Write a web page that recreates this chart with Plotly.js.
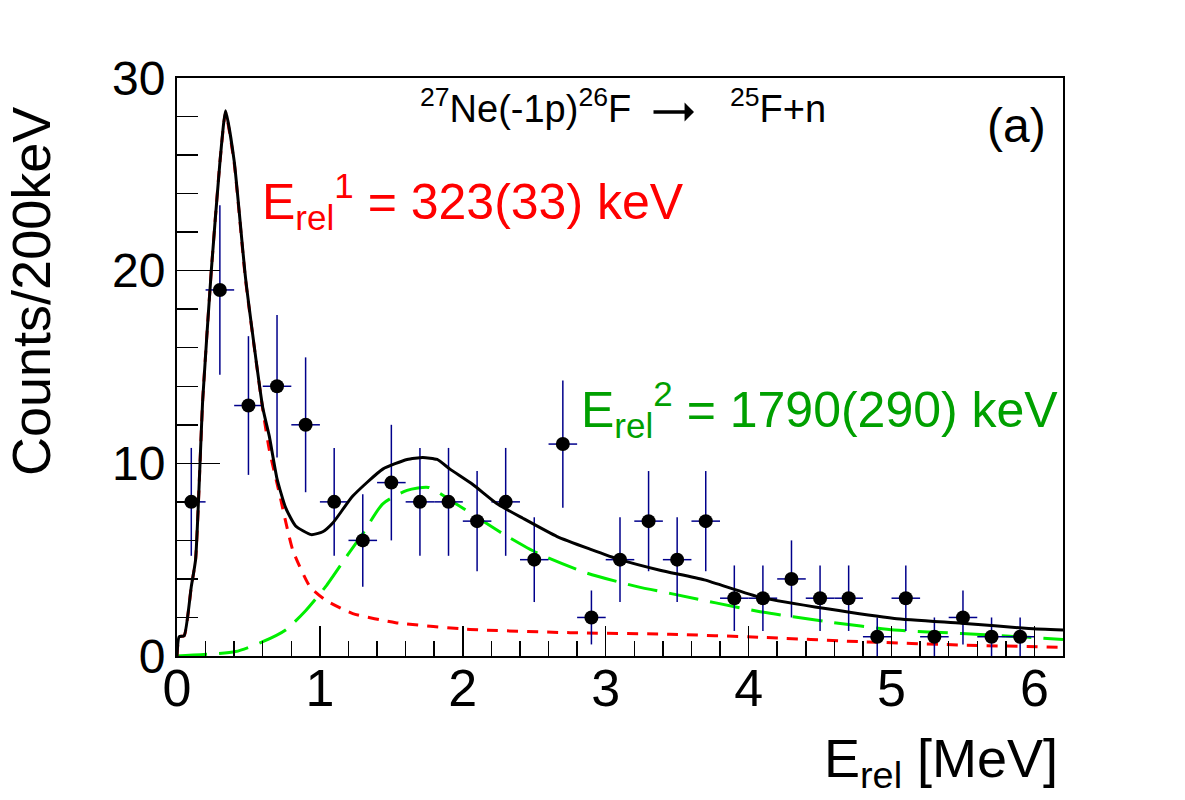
<!DOCTYPE html>
<html>
<head>
<meta charset="utf-8">
<script src="https://cdn.plot.ly/plotly-3.0.1.min.js"></script>
<style>
  body { margin: 0; background: #fff; }
  #plot { width: 1185px; height: 800px; }
</style>
</head>
<body>
<div id="plot"></div>
<script>
// === Data === //
var binCenters = [0.1, 0.3, 0.5, 0.7, 0.9, 1.1, 1.3, 1.5, 1.7, 1.9,
                  2.1, 2.3, 2.5, 2.7, 2.9, 3.1, 3.3, 3.5, 3.7, 3.9,
                  4.1, 4.3, 4.5, 4.7, 4.9, 5.1, 5.3, 5.5, 5.7, 5.9];
var counts = [8, 19, 13, 14, 12, 8, 6, 9, 8, 8,
              7, 8, 5, 11, 2, 5, 7, 5, 7, 3,
              3, 4, 3, 3, 1, 3, 1, 2, 1, 1];
var countErr = [2.8, 4.4, 3.6, 3.7, 3.5, 2.8, 2.4, 3.0, 2.8, 2.8,
                2.6, 2.8, 2.2, 3.3, 1.4, 2.2, 2.6, 2.2, 2.6, 1.7,
                1.7, 2.0, 1.7, 1.7, 1.0, 1.7, 1.0, 1.4, 1.0, 1.0];
var binHalfWidth = [0.1, 0.1, 0.1, 0.1, 0.1, 0.1, 0.1, 0.1, 0.1, 0.1,
                    0.1, 0.1, 0.1, 0.1, 0.1, 0.1, 0.1, 0.1, 0.1, 0.1,
                    0.1, 0.1, 0.1, 0.1, 0.1, 0.1, 0.1, 0.1, 0.1, 0.1];

// total fit (black)
var totalX = [0, 0.015, 0.05, 0.1, 0.13, 0.18, 0.24, 0.3, 0.34, 0.4, 0.48, 0.6, 0.646,
              0.7, 0.76, 0.83, 0.94, 1.02, 1.09, 1.23, 1.44, 1.61, 1.72, 1.82, 1.91, 2.07,
              2.24, 2.42, 2.66, 2.89, 3.1, 3.38, 3.69, 4.08, 4.55, 5.02, 5.49, 5.96, 6.2];
var totalY = [0, 1.0, 1.05, 3.6, 5.0, 13.3, 20.0, 25.6, 28.3, 25.7, 19.6, 12.9, 11.4,
              9.2, 7.7, 6.75, 6.3, 6.45, 6.9, 8.3, 9.7, 10.2, 10.3, 10.2, 9.7, 8.9,
              7.9, 7.15, 6.2, 5.55, 5.0, 4.45, 3.95, 3.05, 2.45, 1.95, 1.7, 1.43, 1.35];

// first resonance (red)
var res1X = [0, 0.015, 0.05, 0.1, 0.13, 0.18, 0.24, 0.3, 0.34, 0.4, 0.48, 0.6, 0.646,
             0.716, 0.81, 0.93, 1.04, 1.23, 1.53, 2.05, 2.75, 3.45, 4.08, 4.79, 5.49, 6.2];
var res1Y = [0, 1.0, 1.05, 3.6, 5.0, 13.3, 20.0, 25.6, 28.2, 25.6, 19.5, 12.8, 10.7,
             8.45, 5.5, 3.6, 2.9, 2.2, 1.73, 1.38, 1.21, 1.13, 0.97, 0.74, 0.57, 0.45];

// second resonance (green)
var res2X = [0, 0.41, 0.6, 0.76, 0.9, 1.04, 1.185, 1.3, 1.44, 1.61, 1.76, 1.91, 2.1,
             2.28, 2.52, 2.87, 3.22, 3.45, 4.08, 4.55, 5.02, 5.49, 5.96, 6.2];
var res2Y = [0, 0.23, 0.74, 1.35, 2.35, 3.6, 5.15, 6.35, 7.9, 8.6, 8.75, 8.1, 7.2,
             6.35, 5.35, 4.3, 3.6, 3.25, 2.3, 1.78, 1.35, 1.17, 0.97, 0.86];

var xTicks = [0, 1, 2, 3, 4, 5, 6];
var yTicks = [0, 10, 20, 30];

// === Traces === //
var traces = [
    {
        x: res2X, y: res2Y, mode: 'lines', type: 'scatter',
        line: {color: '#00ee00', width: 3, dash: '30px,12px', shape: 'spline', smoothing: 0.6},
        hoverinfo: 'skip'
    },
    {
        x: res1X, y: res1Y, mode: 'lines', type: 'scatter',
        line: {color: '#ff0000', width: 3, dash: '11px,9px', shape: 'spline', smoothing: 0.5},
        hoverinfo: 'skip'
    },
    {
        x: binCenters, y: counts, mode: 'markers', type: 'scatter',
        marker: {color: '#000000', size: 14, symbol: 'circle'},
        error_y: {type: 'data', array: countErr, visible: true, color: '#00008b', thickness: 1.5, width: 0},
        error_x: {type: 'data', array: binHalfWidth, visible: true, color: '#00008b', thickness: 1.5, width: 0}
    },
    {
        x: totalX, y: totalY, mode: 'lines', type: 'scatter',
        line: {color: '#000000', width: 3, shape: 'spline', smoothing: 0.5},
        hoverinfo: 'skip'
    }
];

var fontName = '"Liberation Sans", Arial, Helvetica, sans-serif';

// px -> paper helpers for text placement
function px(xp) { return (xp - 177) / 886; }
function py(yp) { return (656 - yp) / 578; }

var layout = {
    width: 1185,
    height: 800,
    showlegend: false,
    paper_bgcolor: '#ffffff',
    plot_bgcolor: '#ffffff',
    margin: {l: 177, r: 122, t: 78, b: 144},
    font: {family: fontName, color: '#000000'},
    xaxis: {
        range: [0, 6.2],
        tickvals: xTicks,
        ticktext: xTicks.map(String),
        ticks: 'inside', ticklen: 30, tickwidth: 1.5, tickcolor: '#000',
        minor: {dtick: 0.2, ticks: 'inside', ticklen: 15, tickwidth: 1.5, tickcolor: '#000', showgrid: false},
        tickfont: {size: 52, family: fontName},
        ticklabelstandoff: -14,
        showgrid: false, zeroline: false,
        showline: true, linecolor: '#000', linewidth: 2, mirror: true
    },
    yaxis: {
        range: [0, 30],
        tickvals: yTicks,
        ticktext: yTicks.map(String),
        ticks: 'inside', ticklen: 43, tickwidth: 1.5, tickcolor: '#000',
        minor: {dtick: 2, ticks: 'inside', ticklen: 21, tickwidth: 1.5, tickcolor: '#000', showgrid: false},
        tickfont: {size: 48, family: fontName},
        showgrid: false, zeroline: false,
        showline: true, linecolor: '#000', linewidth: 2, mirror: true
    },
    annotations: [
        // axis titles
        {text: 'Counts/200keV', xref: 'paper', yref: 'paper', x: px(31), y: py(292),
         xanchor: 'center', yanchor: 'middle',
         textangle: -90, showarrow: false, font: {size: 54, family: fontName}},
        {text: 'E<sub>rel</sub> [MeV]', xref: 'paper', yref: 'paper', x: px(1060), y: py(762),
         xanchor: 'right', yanchor: 'middle', showarrow: false, font: {size: 54, family: fontName}},
        // reaction label
        {text: '<sup>27</sup>Ne(-1p)<sup>26</sup>F', xref: 'paper', yref: 'paper', x: px(418), y: py(106),
         xanchor: 'left', yanchor: 'middle', showarrow: false, font: {size: 38, family: fontName}},
        {text: '', xref: 'paper', yref: 'paper', x: px(694), y: py(112), ax: -42, ay: 0,
         showarrow: true, arrowhead: 1, arrowsize: 0.9, arrowwidth: 3.5, arrowcolor: '#000'},
        {text: '<sup>25</sup>F+n', xref: 'paper', yref: 'paper', x: px(728), y: py(106),
         xanchor: 'left', yanchor: 'middle', showarrow: false, font: {size: 38, family: fontName}},
        {text: '(a)', xref: 'paper', yref: 'paper', x: px(1016), y: py(125),
         xanchor: 'center', yanchor: 'middle', showarrow: false, font: {size: 48, family: fontName}},
        // resonance energies
        {text: 'E<sub>rel</sub><sup>1</sup> = 323(33) keV', xref: 'paper', yref: 'paper', x: px(260), y: py(201),
         xanchor: 'left', yanchor: 'middle', showarrow: false, font: {size: 50, family: fontName, color: '#ff0000'}},
        {text: 'E<sub>rel</sub><sup>2</sup> = 1790(290) keV', xref: 'paper', yref: 'paper', x: px(579), y: py(410),
         xanchor: 'left', yanchor: 'middle', showarrow: false, font: {size: 50, family: fontName, color: '#00a000'}}
    ]
};

Plotly.newPlot('plot', traces, layout, {staticPlot: true});
</script>
</body>
</html>
